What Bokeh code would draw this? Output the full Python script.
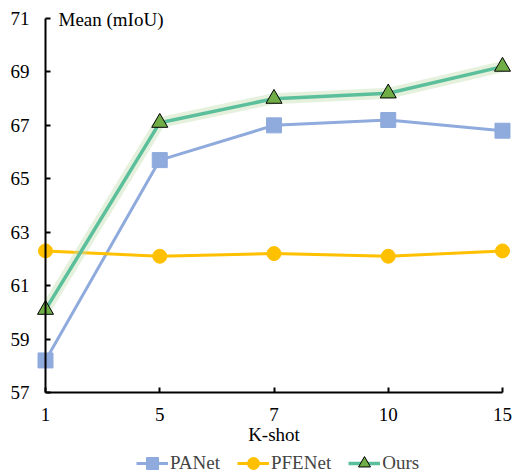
from bokeh.plotting import figure
from bokeh.models import (Range1d, FixedTicker, Label, Legend, LegendItem,
                          LinearAxis)
from bokeh.embed import file_html
from bokeh.resources import INLINE

k_shots = ["1", "5", "7", "10", "15"]
panet = [58.2, 65.7, 67.0, 67.2, 66.8]
pfenet = [62.3, 62.1, 62.2, 62.1, 62.3]
ours = [60.1, 67.1, 68.0, 68.2, 69.2]
y_ticks = [57, 59, 61, 63, 65, 67, 69, 71]

xs = list(range(len(k_shots)))
FONT = "Liberation Serif"
FS = "19px"

p = figure(width=513, height=473, output_backend="svg", toolbar_location=None,
           x_range=Range1d(-0.3939, 4.0963), y_range=Range1d(53.968, 71.674),
           x_axis_location=None, y_axis_location=None,
           min_border=0, background_fill_color="white",
           border_fill_color="white", outline_line_color=None)
p.grid.visible = False

xaxis = LinearAxis(fixed_location=y_ticks[0], bounds=(0, len(k_shots) - 1),
                   ticker=FixedTicker(ticks=xs),
                   major_label_overrides={i: k for i, k in enumerate(k_shots)},
                   axis_label="K-shot")
yaxis = LinearAxis(fixed_location=0, bounds=(y_ticks[0], y_ticks[-1]),
                   ticker=FixedTicker(ticks=y_ticks))
for ax in (xaxis, yaxis):
    ax.axis_line_width = 2
    ax.axis_line_color = "black"
    ax.major_tick_line_width = 2
    ax.major_tick_in = 5
    ax.major_tick_out = 0
    ax.minor_tick_line_color = None
    ax.major_label_text_font = FONT
    ax.major_label_text_font_size = FS
    ax.major_label_text_color = "black"
    ax.axis_label_text_font = FONT
    ax.axis_label_text_font_size = FS
    ax.axis_label_text_font_style = "normal"
    ax.axis_label_text_color = "black"
xaxis.major_label_standoff = 15
xaxis.axis_label_standoff = 0
yaxis.major_label_standoff = 16
p.add_layout(xaxis, "below")
p.add_layout(yaxis, "left")

# series
l1 = p.line(xs, panet, line_color="#8FAADC", line_width=3)
m1 = p.scatter(xs, panet, marker="square", size=15, fill_color="#8FAADC", line_color="#8FAADC")
l2 = p.line(xs, pfenet, line_color="#FFC000", line_width=3)
m2 = p.scatter(xs, pfenet, marker="circle", size=14, fill_color="#FFC000", line_color="#FFC000")
p.line(xs, ours, line_color="#C5E0B4", line_width=11, line_alpha=0.45)
l3 = p.line(xs, ours, line_color="#5BBF9B", line_width=3.5)
m3 = p.scatter(xs, ours, marker="triangle", size=16, fill_color="#70AD47", line_color="black", line_width=1)

p.add_layout(Label(x=0, y=y_ticks[-1], x_offset=13, y_offset=-1, text="Mean (mIoU)",
                   text_baseline="middle", text_font=FONT, text_font_size=FS,
                   text_color="black"))

legend = Legend(items=[LegendItem(label="PANet", renderers=[l1, m1]),
                       LegendItem(label="PFENet", renderers=[l2, m2]),
                       LegendItem(label="Ours", renderers=[l3, m3])],
                orientation="horizontal", location=(136, -5),
                label_text_font=FONT, label_text_font_size=FS,
                glyph_width=32, glyph_height=30, label_standoff=2, spacing=17,
                padding=0, margin=0, border_line_color=None,
                background_fill_alpha=0)
p.add_layout(legend)

open("out.html", "w").write(file_html(p, INLINE))
